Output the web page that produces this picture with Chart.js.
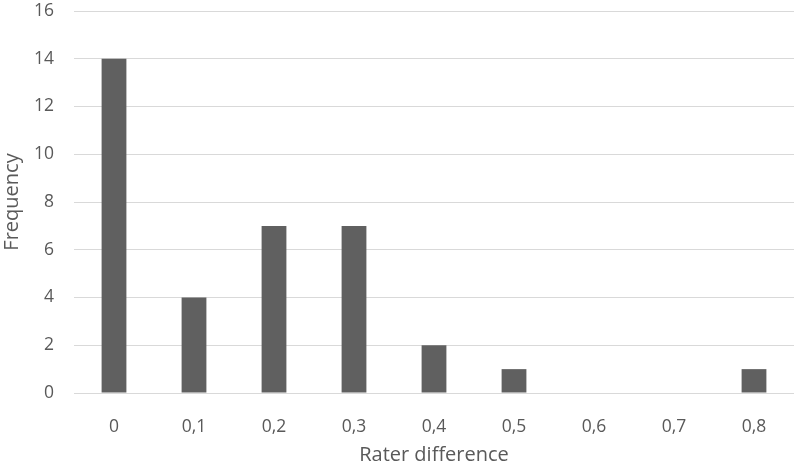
<!DOCTYPE html>
<html><head><meta charset="utf-8">
<script src="https://cdn.jsdelivr.net/npm/chart.js@4/dist/chart.umd.min.js"></script>
<style>html,body{margin:0;padding:0;background:#fff}#c{display:block}</style>
</head><body>
<canvas id="c" width="800" height="467"></canvas>
<script>
const categories = ["0","0,1","0,2","0,3","0,4","0,5","0,6","0,7","0,8"];
const frequency = [14,4,7,7,2,1,0,0,1];
const yTicks = [0,2,4,6,8,10,12,14,16];
const textColor = '#595959';
const family = "'Open Sans', 'Liberation Sans', sans-serif";
const font = {family:family, size:17.5};
new Chart(document.getElementById('c'), {
  type:'bar',
  data:{labels:categories, datasets:[{data:frequency, backgroundColor:'#606060', categoryPercentage:1, barPercentage:0.31}]},
  options:{
    responsive:false, animation:false,
    layout:{padding:{top:11,right:6,left:0,bottom:0}},
    plugins:{legend:{display:false}, tooltip:{enabled:false}},
    scales:{
      x:{
        grid:{display:false}, border:{display:false},
        ticks:{color:textColor, font:font, padding:16},
        title:{display:true, text:'Rater difference', color:textColor, font:{family:family,size:20}, padding:{top:4,bottom:0}},
        afterFit(s){ s.height = 74; s.paddingLeft = 0; s.paddingRight = 0; }
      },
      y:{
        min:0, max:16,
        afterBuildTicks(s){ s.ticks = yTicks.map(v=>({value:v})); },
        grid:{color:'#d9d9d9', lineWidth:1, drawTicks:false}, border:{display:false},
        ticks:{color:textColor, font:font, padding:20},
        title:{display:true, text:'Frequency', color:textColor, font:{family:family,size:20}, padding:{top:0,bottom:4}},
        afterFit(s){ s.width = 74; s.paddingTop = 0; s.paddingBottom = 0; }
      }
    }
  }
});
</script>
</body></html>
